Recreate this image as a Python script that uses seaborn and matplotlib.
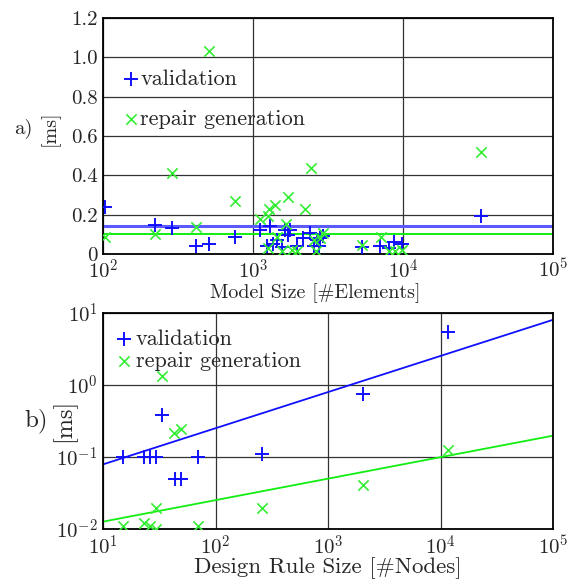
import numpy as np
import pandas as pd
import matplotlib
matplotlib.use("Agg")
import matplotlib.pyplot as plt
import seaborn as sns
from matplotlib.ticker import FixedLocator, FixedFormatter, NullLocator

# ---------------- data ----------------
# a) time vs. model size
model_val_x = [103, 221, 290, 416, 511, 759, 1114, 1300, 1233, 1352, 1439, 1556,
               1637, 1767, 1722, 1977, 2168, 2404, 2557, 2663, 2803, 2951, 2734,
               5320, 7060, 8020, 8660, 9850, 33200]
model_val_y = [0.238, 0.149, 0.130, 0.039, 0.051, 0.086, 0.120, 0.140, 0.039, 0.051,
               0.069, 0.035, 0.120, 0.120, 0.098, 0.042, 0.081, 0.106, 0.042, 0.069,
               0.081, 0.093, 0.042, 0.035, 0.042, 0.030, 0.059, 0.052, 0.191]
model_rep_x = [103, 221, 290, 416, 511, 759, 1114, 1266, 1280, 1397, 1700, 1648,
               1441, 1266, 1556, 1814, 1977, 2221, 2434, 2626, 2537, 2803, 2951,
               5320, 7127, 8020, 8800, 9850, 33200]
model_rep_y = [0.086, 0.101, 0.414, 0.137, 1.031, 0.270, 0.177, 0.191, 0.228, 0.250,
               0.292, 0.152, 0.086, 0.030, 0.014, 0.022, 0.014, 0.228, 0.439, 0.014,
               0.073, 0.081, 0.106, 0.047, 0.086, 0.014, 0.014, 0.019, 0.521]
model_val_level = 0.140
model_rep_level = 0.101

# b) time vs. design rule size
rule_val_x = [15.1, 23.2, 26.0, 29.4, 70.2, 33.5, 43.5, 49.8, 260, 2065, 11770]
rule_val_y = [0.10, 0.10, 0.10, 0.10, 0.10, 0.38, 0.050, 0.050, 0.109, 0.76, 5.45]
rule_rep_x = [33.7, 42.6, 49.1, 15.1, 23.2, 26.4, 29.8, 29.8, 70.2, 260, 2065, 11770]
rule_rep_y = [1.32, 0.218, 0.248, 0.0109, 0.0121, 0.0109, 0.0100, 0.0198, 0.0109,
              0.0198, 0.0404, 0.126]
# power-law fit lines y = a * (x/10)^b
rule_val_fit = (0.079, 0.502)
rule_rep_fit = (0.01265, 0.2985)

x_ticks_a = [1e2, 1e3, 1e4, 1e5]
x_labels_a = [r"$10^{2}$", r"$10^{3}$", r"$10^{4}$", r"$10^{5}$"]
y_ticks_a = [0, 0.2, 0.4, 0.6, 0.8, 1.0, 1.2]
y_labels_a = ["0", "0.2", "0.4", "0.6", "0.8", "1.0", "1.2"]
x_ticks_b = [1e1, 1e2, 1e3, 1e4, 1e5]
x_labels_b = [r"$10^{1}$", r"$10^{2}$", r"$10^{3}$", r"$10^{4}$", r"$10^{5}$"]
y_ticks_b = [1e-2, 1e-1, 1e0, 1e1]
y_labels_b = [r"$10^{-2}$", r"$10^{-1}$", r"$10^{0}$", r"$10^{1}$"]

BLUE = "#1010ff"
GREEN = "#33ee33"

# ---------------- style ----------------
sns.set_style("white")
plt.rcParams["font.family"] = ["cmr10", "DejaVu Serif"]
plt.rcParams["mathtext.fontset"] = "cm"
plt.rcParams["axes.unicode_minus"] = False
plt.rcParams["axes.formatter.use_mathtext"] = True
TICK_FS = 15
LEG_FS = 16

fig = plt.figure(figsize=(5.74, 5.81), dpi=100)
W, H = 574, 581
def axpos(l, t, r, b):
    return [l / W, 1 - b / H, (r - l) / W, (b - t) / H]

ax1 = fig.add_axes(axpos(103, 18, 553, 254))
ax2 = fig.add_axes(axpos(103, 313, 553, 529))

def style_axis(ax):
    ax.grid(True, which="major", color="0.2", lw=0.9)
    for sp in ax.spines.values():
        sp.set_color("black")
        sp.set_linewidth(1.3)
    ax.tick_params(length=0, pad=4, labelsize=TICK_FS)

# ---- a) ----
sns.scatterplot(x=model_val_x, y=model_val_y, marker="+", color=BLUE, s=95,
                linewidth=1.4, ax=ax1, label="validation", zorder=3)
sns.scatterplot(x=model_rep_x, y=model_rep_y, marker="x", color=GREEN, s=55,
                linewidth=1.2, ax=ax1, label="repair generation", zorder=3)
ax1.axhline(model_val_level, color="#5a5aff", lw=2.2, zorder=2)
ax1.axhline(model_rep_level, color="#11ee11", lw=1.4, zorder=2)
ax1.set_xscale("log")
ax1.set_xlim(1e2, 1e5)
ax1.set_ylim(0, 1.2)
style_axis(ax1)
ax1.tick_params(axis="x", pad=3)
ax1.xaxis.set_major_locator(FixedLocator(x_ticks_a))
ax1.xaxis.set_major_formatter(FixedFormatter(x_labels_a))
ax1.xaxis.set_minor_locator(NullLocator())
ax1.yaxis.set_major_locator(FixedLocator(y_ticks_a))
ax1.yaxis.set_major_formatter(FixedFormatter(y_labels_a))
ax1.set_xlabel("Model Size [#Elements]", fontsize=14.5)
ax1.xaxis.set_label_coords((315 - 103) / 450, (254 - 283) / 236)
ax1.set_ylabel("")
leg1 = ax1.legend(loc="upper left", bbox_to_anchor=(0.048, 0.782), frameon=False,
                  fontsize=LEG_FS, handlelength=0.6, handletextpad=0.1,
                  labelspacing=0.92, borderaxespad=0, borderpad=0)
leg1.set_zorder(0.4)

# ---- b) ----
xs = np.logspace(1, 5, 50)
val_line = rule_val_fit[0] * (xs / 10) ** rule_val_fit[1]
rep_line = rule_rep_fit[0] * (xs / 10) ** rule_rep_fit[1]
sns.lineplot(x=xs, y=val_line, color="#1010ff", lw=1.3, ax=ax2, zorder=2)
sns.lineplot(x=xs, y=rep_line, color="#11ee11", lw=1.3, ax=ax2, zorder=2)
sns.scatterplot(x=rule_val_x, y=rule_val_y, marker="+", color=BLUE, s=95,
                linewidth=1.4, ax=ax2, label="validation", zorder=3)
sns.scatterplot(x=rule_rep_x, y=rule_rep_y, marker="x", color=GREEN, s=55,
                linewidth=1.2, ax=ax2, label="repair generation", zorder=3)
ax2.set_xscale("log")
ax2.set_yscale("log")
ax2.set_xlim(1e1, 1e5)
ax2.set_ylim(1e-2, 1e1)
style_axis(ax2)
ax2.xaxis.set_major_locator(FixedLocator(x_ticks_b))
ax2.xaxis.set_major_formatter(FixedFormatter(x_labels_b))
ax2.xaxis.set_minor_locator(NullLocator())
ax2.yaxis.set_major_locator(FixedLocator(y_ticks_b))
ax2.yaxis.set_major_formatter(FixedFormatter(y_labels_b))
ax2.yaxis.set_minor_locator(NullLocator())
ax2.set_xlabel("Design Rule Size [#Nodes]", fontsize=16.5)
ax2.xaxis.set_label_coords(0.5, (529 - 557) / 216)
ax2.set_ylabel("")
leg2 = ax2.legend(loc="upper left", bbox_to_anchor=(0.031, 0.925), frameon=False,
                  fontsize=LEG_FS, handlelength=0.6, handletextpad=0.25,
                  labelspacing=0.12, borderaxespad=0, borderpad=0)
leg2.set_zorder(0.4)

# side labels
fig.text(50 / W, 1 - 128 / H, "[ms]", fontsize=14.5, rotation=90, ha="center", va="center")
fig.text(64 / W, 1 - 420 / H, "[ms]", fontsize=17.5, rotation=90, ha="center", va="center")
fig.text(23 / W, 1 - 129 / H, "a)", fontsize=15, ha="center", va="center")
fig.text(36 / W, 1 - 421 / H, "b)", fontsize=18, ha="center", va="center")

fig.savefig("out.png", dpi=100)
